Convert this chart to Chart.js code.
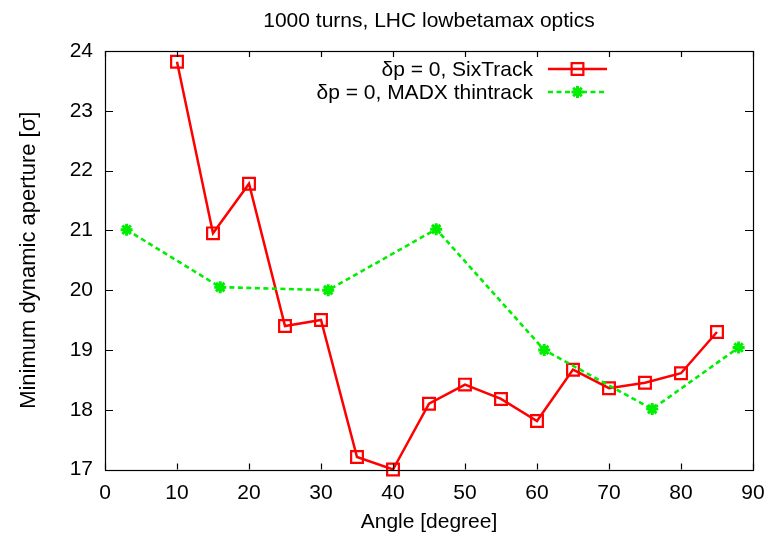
<!DOCTYPE html>
<html>
<head>
<meta charset="utf-8">
<script src="https://cdn.jsdelivr.net/npm/chart.js@4.4.1/dist/chart.umd.min.js"></script>
<style>
  html, body { margin: 0; padding: 0; background: #fff; }
  #wrap { width: 777px; height: 538px; position: relative; }
</style>
</head>
<body>
<div id="wrap"><canvas id="c" width="777" height="538"></canvas></div>
<script>
// Scan angle [degree] and minimum dynamic aperture [sigma], 1000 turns
const angleSixTrack = [10, 15, 20, 25, 30, 35, 40, 45, 50, 55, 60, 65, 70, 75, 80, 85];
const apertureSixTrack = [23.82, 20.95, 21.78, 19.40, 19.50, 17.21, 17.00, 18.10, 18.42, 18.18, 17.81, 18.67, 18.36, 18.45, 18.61, 19.30];
const angleMadx = [3, 16, 31, 46, 61, 76, 88];
const apertureMadx = [21.01, 20.05, 20.00, 21.02, 19.00, 18.01, 19.04];
const xTicks = [0, 10, 20, 30, 40, 50, 60, 70, 80, 90];
const yTicks = [17, 18, 19, 20, 21, 22, 23, 24];
const seriesNames = ['\u03b4p = 0, SixTrack', '\u03b4p = 0, MADX thintrack'];
const chartTitle = '1000 turns, LHC lowbetamax optics';

const FONT = '"Liberation Sans", Arial, Helvetica, sans-serif';
const FSIZE = 21;
const RED = '#ff0000';
const GREEN = '#00ee00';

const toPoints = (xs, ys) => xs.map((x, i) => ({ x: x, y: ys[i] }));

// gnuplot-style frame: border with inward ticks on all four sides,
// title centred over the plot, and a key with text left of the sample
const framePlugin = {
  id: 'frame',
  afterDatasetsDraw(chart) {
    const { ctx, chartArea: a, scales } = chart;
    ctx.save();
    ctx.strokeStyle = '#000';
    ctx.lineWidth = 1.2;
    ctx.beginPath();
    xTicks.forEach(v => {
      const px = Math.round(scales.x.getPixelForValue(v)) + 0.5;
      ctx.moveTo(px, a.bottom); ctx.lineTo(px, a.bottom - 6);
      ctx.moveTo(px, a.top); ctx.lineTo(px, a.top + 6);
    });
    yTicks.forEach(v => {
      const py = Math.round(scales.y.getPixelForValue(v)) + 0.5;
      ctx.moveTo(a.left, py); ctx.lineTo(a.left + 8, py);
      ctx.moveTo(a.right, py); ctx.lineTo(a.right - 8, py);
    });
    ctx.stroke();
    ctx.strokeRect(Math.round(a.left) + 0.5, Math.round(a.top) + 0.5,
                   Math.round(a.right - a.left), Math.round(a.bottom - a.top));
    ctx.restore();
  },
  afterDraw(chart) {
    const { ctx, chartArea: a } = chart;
    ctx.save();
    ctx.font = FSIZE + 'px ' + FONT;
    ctx.fillStyle = '#000';
    ctx.textAlign = 'center';
    ctx.textBaseline = 'middle';
    ctx.fillText(chartTitle, (a.left + a.right) / 2, 21);

    const textRight = 533, sx0 = 548, sx1 = 607, rows = [69, 92];
    ctx.textAlign = 'right';
    chart.data.datasets.forEach((ds, i) => {
      const y = rows[i];
      ctx.fillStyle = '#000';
      ctx.fillText(seriesNames[i], textRight, y + 1);
      ctx.save();
      ctx.strokeStyle = ds.borderColor;
      ctx.lineWidth = ds.borderWidth;
      ctx.setLineDash(ds.borderDash || []);
      ctx.beginPath();
      ctx.moveTo(sx0, y); ctx.lineTo(sx1, y);
      ctx.stroke();
      ctx.restore();
      ctx.save();
      ctx.fillStyle = ds.pointBackgroundColor;
      ctx.strokeStyle = ds.pointBorderColor;
      ctx.lineWidth = ds.pointBorderWidth;
      Chart.helpers.drawPoint(ctx, {
        pointStyle: ds.pointStyle,
        radius: ds.pointRadius,
        borderWidth: ds.pointBorderWidth,
        rotation: 0
      }, (sx0 + sx1) / 2, y);
      ctx.restore();
    });
    ctx.restore();
  }
};

new Chart(document.getElementById('c'), {
  type: 'scatter',
  data: {
    datasets: [
      {
        label: seriesNames[0],
        data: toPoints(angleSixTrack, apertureSixTrack),
        showLine: true,
        borderColor: RED,
        borderWidth: 2.5,
        pointStyle: 'rect',
        pointRadius: 8.3,
        pointBorderWidth: 2.2,
        pointBorderColor: RED,
        pointBackgroundColor: 'rgba(0,0,0,0)',
        clip: false,
        order: 1
      },
      {
        label: seriesNames[1],
        data: toPoints(angleMadx, apertureMadx),
        showLine: true,
        borderColor: GREEN,
        borderWidth: 2.6,
        borderDash: [5, 3.5],
        pointStyle: 'star',
        pointRadius: 6,
        pointBorderWidth: 3,
        pointBorderColor: GREEN,
        pointBackgroundColor: GREEN,
        clip: false,
        order: 0
      }
    ]
  },
  options: {
    responsive: false,
    animation: false,
    devicePixelRatio: 1,
    layout: { padding: { top: 51, right: 24, left: 0, bottom: 0 } },
    plugins: {
      legend: { display: false },
      tooltip: { enabled: false },
      title: { display: false }
    },
    scales: {
      x: {
        type: 'linear',
        min: 0,
        max: 90,
        afterBuildTicks(scale) { scale.ticks = xTicks.map(v => ({ value: v })); },
        afterFit(scale) { scale.height = 68.5; },
        grid: { display: false, drawTicks: false },
        border: { display: false },
        ticks: { color: '#000', padding: 11, font: { family: FONT, size: FSIZE }, maxRotation: 0 },
        title: {
          display: true,
          text: 'Angle [degree]',
          color: '#000',
          font: { family: FONT, size: FSIZE },
          padding: { top: 0, bottom: 3 }
        }
      },
      y: {
        type: 'linear',
        min: 17,
        max: 24,
        afterBuildTicks(scale) { scale.ticks = yTicks.map(v => ({ value: v })); },
        afterFit(scale) { scale.width = 105; },
        grid: { display: false, drawTicks: false },
        border: { display: false },
        ticks: { color: '#000', padding: 12, font: { family: FONT, size: FSIZE } },
        title: {
          display: true,
          text: 'Minimum dynamic aperture [\u03c3]',
          color: '#000',
          font: { family: FONT, size: 22 },
          padding: { top: 16, bottom: 0 }
        }
      }
    }
  },
  plugins: [framePlugin]
});
</script>
</body>
</html>
